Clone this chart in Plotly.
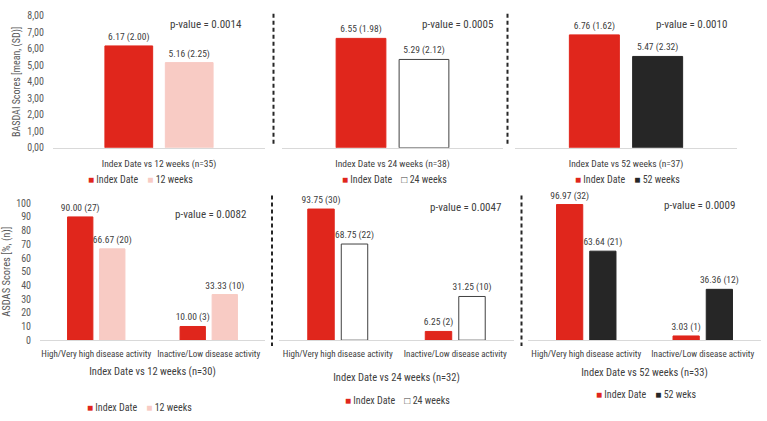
import plotly.graph_objects as go

W, H = 767, 421
FONT = "Liberation Sans Narrow, Arial Narrow, Roboto Condensed, Liberation Sans, Arial, sans-serif"
GREY = "#595959"
DARK = "#404040"
RED = "#E0261C"
PINK = "#F8CBC4"
BLACK = "#262626"
WHITE = "#FFFFFF"

# ---------------- data ----------------
basdai_categories = ["Index Date vs 12 weeks (n=35)", "Index Date vs 24 weeks (n=38)", "Index Date vs 52 weeks (n=37)"]
basdai_index_mean = [6.17, 6.55, 6.76]
basdai_index_sd = [2.00, 1.98, 1.62]
basdai_follow_mean = [5.16, 5.29, 5.47]
basdai_follow_sd = [2.25, 2.12, 2.32]
basdai_follow_names = ["12 weeks", "24 weeks", "52 weeks"]
basdai_pvalues = ["0.0014", "0.0005", "0.0010"]

asdas_categories = ["High/Very high disease activity", "Inactive/Low disease activity"]
asdas_titles = ["Index Date vs 12 weeks (n=30)", "Index Date vs 24 weeks (n=32)", "Index Date vs 52 weeks (n=33)"]
asdas_index_pct_12 = [90.00, 10.00]
asdas_index_n_12 = [27, 3]
asdas_follow_pct_12 = [66.67, 33.33]
asdas_follow_n_12 = [20, 10]
asdas_index_pct_24 = [93.75, 6.25]
asdas_index_n_24 = [30, 2]
asdas_follow_pct_24 = [68.75, 31.25]
asdas_follow_n_24 = [22, 10]
asdas_index_pct_52 = [96.97, 3.03]
asdas_index_n_52 = [32, 1]
asdas_follow_pct_52 = [63.64, 36.36]
asdas_follow_n_52 = [21, 12]
asdas_follow_names = ["12 weeks", "24 weeks", "52 weks"]
asdas_pvalues = ["0.0082", "0.0047", "0.0009"]

index_name = "Index Date"
follow_colors = [PINK, WHITE, BLACK]
follow_lines = [PINK, DARK, BLACK]

asdas_index_pct = [asdas_index_pct_12, asdas_index_pct_24, asdas_index_pct_52]
asdas_index_n = [asdas_index_n_12, asdas_index_n_24, asdas_index_n_52]
asdas_follow_pct = [asdas_follow_pct_12, asdas_follow_pct_24, asdas_follow_pct_52]
asdas_follow_n = [asdas_follow_n_12, asdas_follow_n_24, asdas_follow_n_52]


def px(x):
    return x / W


def py(y):
    return 1 - y / H


fig = go.Figure()

# ---------------- layout geometry (pixels) ----------------
top_x_domains = [(53, 265), (282, 503), (515, 737)]
top_y_domains = [(146, 10), (146, 8.4), (146, 8.4)]
bot_x_domains = [(40, 265), (279, 514), (528, 761)]
bot_y_domains = [(344, 203), (344, 200), (344, 200)]

LABEL_SIZE = 9.5

layout_axes = {}
for i in range(3):
    ax = i + 1
    xa = "x" if ax == 1 else f"x{ax}"
    ya = "y" if ax == 1 else f"y{ax}"
    fig.add_trace(go.Bar(
        x=[basdai_categories[i]], y=[basdai_index_mean[i]], name=index_name,
        marker=dict(color=RED, line=dict(color=RED, width=1)),
        text=[f"{basdai_index_mean[i]:.2f} ({basdai_index_sd[i]:.2f})"],
        textposition="outside", cliponaxis=False, constraintext="none",
        textfont=dict(family=FONT, size=LABEL_SIZE, color=DARK),
        xaxis=xa, yaxis=ya, showlegend=False))
    fig.add_trace(go.Bar(
        x=[basdai_categories[i]], y=[basdai_follow_mean[i]], name=basdai_follow_names[i],
        marker=dict(color=follow_colors[i], line=dict(color=follow_lines[i], width=1)),
        text=[f"{basdai_follow_mean[i]:.2f} ({basdai_follow_sd[i]:.2f})"],
        textposition="outside", cliponaxis=False, constraintext="none",
        textfont=dict(family=FONT, size=LABEL_SIZE, color=DARK),
        xaxis=xa, yaxis=ya, showlegend=False))
    x0, x1 = top_x_domains[i]
    yb, yt = top_y_domains[i]
    layout_axes["xaxis" if ax == 1 else f"xaxis{ax}"] = dict(
        domain=[px(x0), px(x1)], anchor=ya, showline=True, linecolor="#D9D9D9", linewidth=1,
        ticks="outside", ticklen=7, tickcolor="rgba(0,0,0,0)", tickangle=0,
        tickfont=dict(family=FONT, size=9.5, color=DARK), showgrid=False, fixedrange=True)
    ydict = dict(domain=[py(yb), py(yt)], anchor=xa, range=[0, 8], showgrid=False,
                 zeroline=False, fixedrange=True)
    if i == 0:
        ydict.update(tickvals=[0, 1, 2, 3, 4, 5, 6, 7, 8], tickformat=".2f",
                     ticks="outside", ticklen=6, tickcolor="rgba(0,0,0,0)",
                     tickfont=dict(family=FONT, size=10, color=GREY),
                     title=dict(text="BASDAI Scores [mean, (SD)]", standoff=4,
                                font=dict(family=FONT, size=10, color=GREY)))
    else:
        ydict.update(showticklabels=False)
    layout_axes["yaxis" if ax == 1 else f"yaxis{ax}"] = ydict

for i in range(3):
    ax = i + 4
    xa, ya = f"x{ax}", f"y{ax}"
    fig.add_trace(go.Bar(
        x=asdas_categories, y=asdas_index_pct[i], name=index_name,
        marker=dict(color=RED, line=dict(color=RED, width=1)),
        text=[f"{v:.2f} ({n})" for v, n in zip(asdas_index_pct[i], asdas_index_n[i])],
        textposition="outside", cliponaxis=False, constraintext="none",
        textfont=dict(family=FONT, size=LABEL_SIZE, color=DARK),
        xaxis=xa, yaxis=ya, showlegend=False))
    fig.add_trace(go.Bar(
        x=asdas_categories, y=asdas_follow_pct[i], name=asdas_follow_names[i],
        marker=dict(color=follow_colors[i], line=dict(color=follow_lines[i], width=1)),
        text=[f"{v:.2f} ({n})" for v, n in zip(asdas_follow_pct[i], asdas_follow_n[i])],
        textposition="outside", cliponaxis=False, constraintext="none",
        textfont=dict(family=FONT, size=LABEL_SIZE, color=DARK),
        xaxis=xa, yaxis=ya, showlegend=False))
    x0, x1 = bot_x_domains[i]
    yb, yt = bot_y_domains[i]
    layout_axes[f"xaxis{ax}"] = dict(
        domain=[px(x0), px(x1)], anchor=ya, showline=True, linecolor="#D9D9D9", linewidth=1,
        ticks="outside", ticklen=5, tickcolor="rgba(0,0,0,0)", tickangle=0,
        tickfont=dict(family=FONT, size=9, color=DARK), showgrid=False, fixedrange=True,
        title=dict(text=asdas_titles[i], standoff=[9, 15, 10][i],
                   font=dict(family=FONT, size=10.5, color=DARK)))
    ydict = dict(domain=[py(yb), py(yt)], anchor=xa, range=[0, 100], showgrid=False,
                 zeroline=False, fixedrange=True)
    if i == 0:
        ydict.update(tickvals=list(range(0, 101, 10)),
                     ticks="outside", ticklen=6, tickcolor="rgba(0,0,0,0)",
                     tickfont=dict(family=FONT, size=10, color=GREY),
                     title=dict(text="ASDAS Scores [%, (n)]", standoff=6,
                                font=dict(family=FONT, size=10.5, color=GREY)))
    else:
        ydict.update(showticklabels=False)
    layout_axes[f"yaxis{ax}"] = ydict

fig.update_layout(**layout_axes)

# p-value annotations
p_positions = [(206, 19), (457.5, 19), (691, 19), (210, 215), (465.5, 207), (699.5, 205)]
p_texts = basdai_pvalues + asdas_pvalues
annotations = []
for (x, y), p in zip(p_positions, p_texts):
    annotations.append(dict(x=px(x), y=py(y), xref="paper", yref="paper", showarrow=False,
                            text=f"p-value = {p}", font=dict(family=FONT, size=11, color=DARK),
                            xanchor="center", yanchor="middle"))

# legends (one per panel)
legend_positions = [(140, 179), (394, 179), (627.5, 179), (139.5, 413), (397, 406), (646.5, 400)]
legend_names = basdai_follow_names + asdas_follow_names
for k, ((x, y), name) in enumerate(zip(legend_positions, legend_names)):
    j = k % 3
    sym = "□" if follow_colors[j] == WHITE else "■"
    col = DARK if follow_colors[j] == WHITE else follow_colors[j]
    txt = (f"<span style='color:{RED}'>■</span> {index_name}&nbsp;&nbsp;&nbsp;&nbsp;"
           f"<span style='color:{col}'>{sym}</span> {name}")
    annotations.append(dict(x=px(x), y=py(y), xref="paper", yref="paper", showarrow=False,
                            text=txt, font=dict(family=FONT, size=10, color=DARK),
                            xanchor="center", yanchor="middle"))

# dashed separators
shapes = []
for (x, y0, y1) in [(273.5, 8, 144), (507.5, 8, 145), (272, 195, 350), (521.5, 195, 350)]:
    shapes.append(dict(type="line", xref="paper", yref="paper", x0=px(x), x1=px(x),
                       y0=py(y0), y1=py(y1), line=dict(color=BLACK, width=2, dash="4px,3px")))

fig.update_layout(
    width=W, height=H, margin=dict(l=0, r=0, t=0, b=0),
    paper_bgcolor="white", plot_bgcolor="white",
    barmode="group", bargap=0.43, bargroupgap=0.21,
    separators=",.", showlegend=False,
    annotations=annotations, shapes=shapes,
    font=dict(family=FONT, size=10, color=DARK),
)

fig.write_html("out.html", include_plotlyjs=True, config={"displayModeBar": False})
